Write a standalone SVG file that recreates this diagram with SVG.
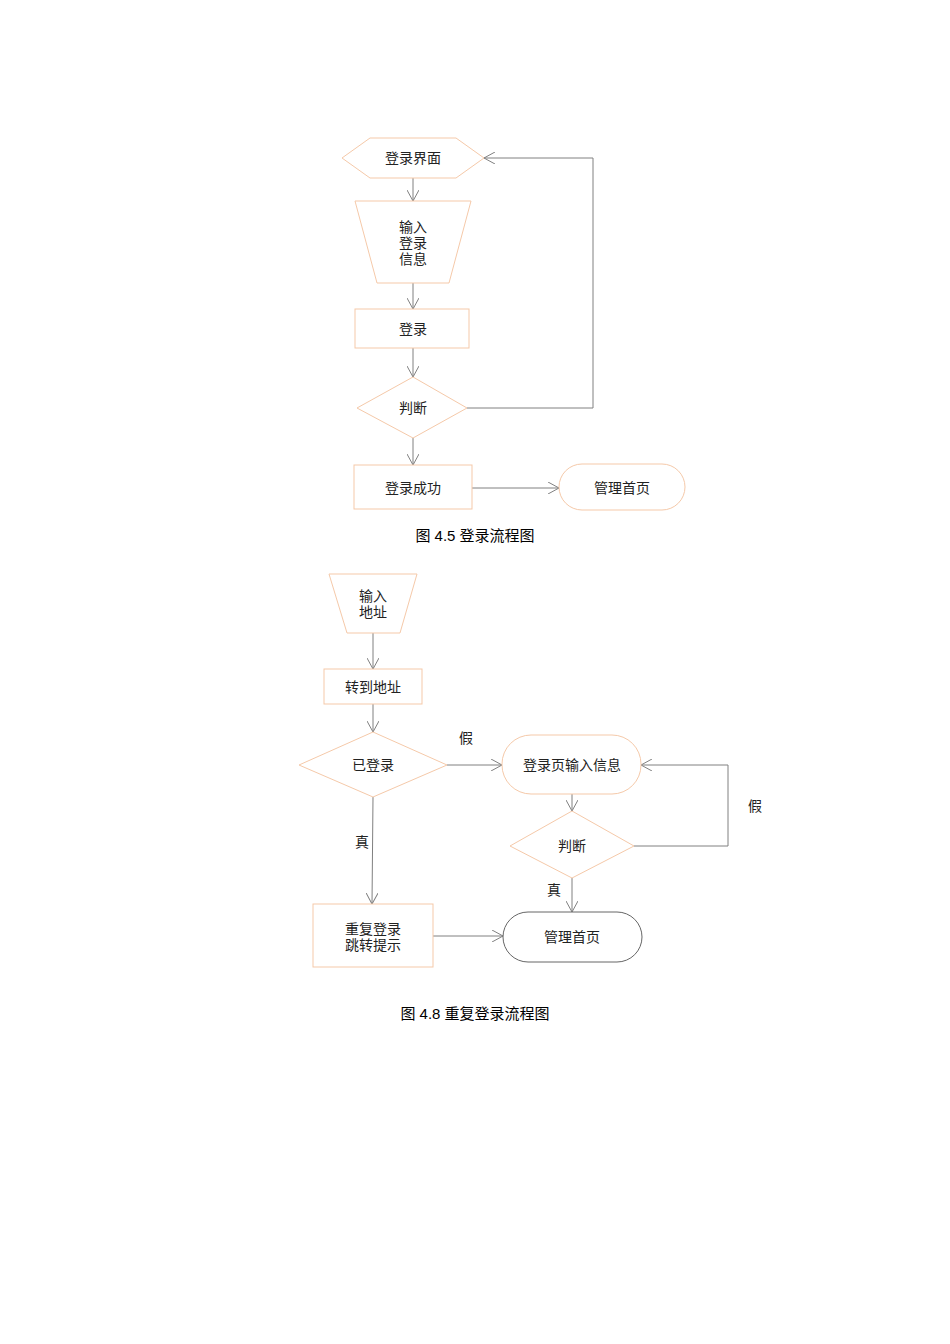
<svg xmlns="http://www.w3.org/2000/svg" width="950" height="1344" viewBox="0 0 950 1344">
<style>
.s{fill:#fff;stroke:#f5c9a9;stroke-width:1}
.g{fill:#fff;stroke:#666;stroke-width:1}
.c{fill:none;stroke:#808080;stroke-width:1;marker-end:url(#a)}
text{font-family:"Liberation Serif","Noto Sans CJK SC",serif;font-size:14px;fill:#222;text-anchor:middle}
.cap{font-family:"Liberation Sans","Noto Sans CJK SC",sans-serif;font-size:15px;fill:#000}
</style>
<defs><marker id="a" markerWidth="12" markerHeight="12" refX="11" refY="6" orient="auto" markerUnits="userSpaceOnUse"><path d="M0,0 L11,6 L0,12" fill="none" stroke="#808080"/></marker></defs>
<rect width="950" height="1344" fill="#fff"/>
<g id="connectors">
<path class="c" d="M413,178 V201"/>
<path class="c" d="M413,283 V309"/>
<path class="c" d="M413,348 V377"/>
<path class="c" d="M413,438 V465"/>
<path class="c" d="M467,408 H593 V158 H484"/>
<path class="c" d="M472,488 H559"/>
<path class="c" d="M373,633 V669"/>
<path class="c" d="M373,704 V732"/>
<path class="c" d="M447,765 H502"/>
<path class="c" d="M373,797 L372,904"/>
<path class="c" d="M572,794 V811"/>
<path class="c" d="M634,846 H728 V765 H641"/>
<path class="c" d="M572,878 V912"/>
<path class="c" d="M433,936 H503"/>
<text x="466" y="743">假</text>
<text x="755" y="811">假</text>
<text x="362" y="847">真</text>
<text x="554" y="895">真</text>
</g>
<g id="n1"><polygon class="s" points="342,158 370,138 456,138 484,158 456,178 370,178"/><text x="413" y="163">登录界面</text></g>
<g id="n2"><polygon class="s" points="355,201 471,201 449,283 377,283"/><text x="413" y="232">输入</text><text x="413" y="248">登录</text><text x="413" y="264">信息</text></g>
<g id="n3"><rect class="s" x="355" y="309" width="114" height="39"/><text x="413" y="334">登录</text></g>
<g id="n4"><polygon class="s" points="357,408 413,377 467,408 413,438"/><text x="413" y="413">判断</text></g>
<g id="n5"><rect class="s" x="354" y="465" width="118" height="44"/><text x="413" y="493">登录成功</text></g>
<g id="n6"><rect class="s" x="559" y="464" width="126" height="46" rx="23"/><text x="622" y="493">管理首页</text></g>
<text class="cap" x="475" y="541">图 4.5  登录流程图</text>
<g id="m1"><polygon class="s" points="329,574 417,574 400,633 347,633"/><text x="373" y="601">输入</text><text x="373" y="617">地址</text></g>
<g id="m2"><rect class="s" x="324" y="669" width="98" height="35"/><text x="373" y="692">转到地址</text></g>
<g id="m3"><polygon class="s" points="299,765 373,732 447,765 373,797"/><text x="373" y="770">已登录</text></g>
<g id="m4"><rect class="s" x="502" y="735" width="139" height="59" rx="29"/><text x="572" y="770">登录页输入信息</text></g>
<g id="m5"><polygon class="s" points="510,846 572,811 634,846 572,878"/><text x="572" y="851">判断</text></g>
<g id="m6"><rect class="s" x="313" y="904" width="120" height="63"/><text x="373" y="934">重复登录</text><text x="373" y="950">跳转提示</text></g>
<g id="m7"><rect class="g" x="503" y="912" width="139" height="50" rx="25"/><text x="572" y="942">管理首页</text></g>
<text class="cap" x="475" y="1019">图 4.8 重复登录流程图</text>
</svg>
